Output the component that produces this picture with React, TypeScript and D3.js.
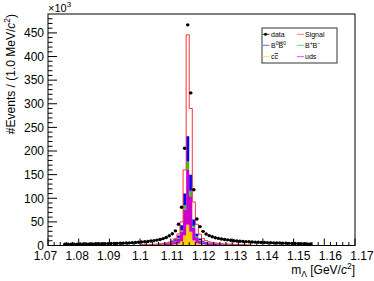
import React from "react";
import * as d3 from "d3";

// ---------- data (values in units of 10^3 events) ----------
const binWidth = 0.001; // GeV
const xDomain: [number, number] = [1.07, 1.17];
const yDomain: [number, number] = [0, 490];

// data: first bin lower edge 1.075
const dataStart = 1.075;
const dataValues = [
  2.6, 2.7, 2.8, 2.9, 3.0, 3.1, 3.2, 3.3, 3.4, 3.5,
  3.6, 3.7, 3.8, 3.9, 4.0, 4.2, 4.4, 4.6, 4.8, 5.0,
  5.3, 5.6, 6.0, 6.4, 6.8, 7.3, 7.9, 8.6, 9.4, 10.3,
  11.4, 12.8, 14.6, 17.0, 20.5, 25, 31, 45, 81, 206,
  467, 323, 118, 56, 40, 30, 24.5, 21, 18.5, 16.5,
  15, 13.8, 12.8, 12, 11.1, 10.2, 9.6, 9.1, 8.6, 8.2,
  7.8, 7.4, 7.1, 6.8, 6.5, 6.2, 6.0, 5.8, 5.6, 5.4,
  5.2, 5.0, 4.8, 4.6, 4.4, 4.2, 4.0, 3.8, 3.6, 3.4,
  3.2,
];

// MC components: first bin lower edge 1.100
const mcStart = 1.1;
const ccbar = [
  0.3, 0.3, 0.4, 0.4, 0.5, 0.6, 0.7, 0.8, 1.0, 1.3, 1.8, 2.6, 4.2, 8.5, 21, 44, 29, 10.5,
  5, 3, 2, 1.5, 1.2, 1.0, 0.9, 0.75, 0.65, 0.55, 0.5, 0.45, 0.4, 0.35, 0.3, 0.28, 0.25, 0.22,
];
const uds = [
  0.7, 0.8, 0.9, 1.0, 1.2, 1.4, 1.7, 2.1, 2.6, 3.3, 4.5, 6.5, 10.5, 21, 55, 116, 75, 27,
  12.5, 7.5, 5, 3.8, 3.0, 2.5, 2.1, 1.8, 1.6, 1.4, 1.25, 1.1, 1.0, 0.9, 0.8, 0.7, 0.65, 0.6,
];
const bpbm = [
  0.1, 0.1, 0.1, 0.2, 0.2, 0.2, 0.3, 0.3, 0.4, 0.5, 0.7, 1.0, 1.7, 3.5, 9, 18, 12, 4.5,
  2, 1.2, 0.8, 0.6, 0.5, 0.4, 0.35, 0.3, 0.25, 0.22, 0.2, 0.18, 0.16, 0.14, 0.12, 0.11, 0.1, 0.1,
];
const b0b0 = [
  0.3, 0.3, 0.4, 0.4, 0.5, 0.6, 0.7, 0.9, 1.1, 1.4, 2.0, 2.9, 4.6, 10, 25, 53, 34, 13,
  5.5, 3.3, 2.2, 1.6, 1.3, 1.1, 0.9, 0.8, 0.7, 0.6, 0.55, 0.5, 0.45, 0.4, 0.35, 0.3, 0.28, 0.25,
];
const signal = [
  0.1, 0.1, 0.1, 0.2, 0.2, 0.2, 0.3, 0.3, 0.4, 0.6, 0.9, 1.5, 3.5, 7, 50, 215, 140, 37,
  20, 9, 5, 3, 2, 1.5, 1.2, 1.0, 0.8, 0.7, 0.6, 0.5, 0.45, 0.4, 0.35, 0.3, 0.28, 0.25,
];

const xTicks = [1.07, 1.08, 1.09, 1.1, 1.11, 1.12, 1.13, 1.14, 1.15, 1.16, 1.17];
const xTickLabels = ["1.07", "1.08", "1.09", "1.1", "1.11", "1.12", "1.13", "1.14", "1.15", "1.16", "1.17"];
const yTicks = [0, 50, 100, 150, 200, 250, 300, 350, 400, 450];

const stackKeys = ["ccbar", "uds", "bpbm", "b0b0", "signal"];
const stackColors: Record<string, string> = {
  ccbar: "#ffcc00",
  uds: "#cc00cc",
  bpbm: "#22cc22",
  b0b0: "#0000ff",
};

// ---------- layout ----------
const W = 374;
const H = 281;
const L = 48, R = 355, T = 14, B = 245.5;
const FONT = "'Liberation Sans', Arial, Helvetica, sans-serif";

export default function App() {
  const x = d3.scaleLinear().domain(xDomain).range([L, R]);
  const y = d3.scaleLinear().domain(yDomain).range([B, T]);
  // tick labels in the reference are spread slightly wider than the ticks
  const xLab = d3.scaleLinear().domain(xDomain).range([45.5, 362]);

  const rows = ccbar.map((_, i) => ({
    lo: mcStart + i * binWidth,
    ccbar: ccbar[i],
    uds: uds[i],
    bpbm: bpbm[i],
    b0b0: b0b0[i],
    signal: signal[i],
  }));
  const stacked = d3.stack<any>().keys(stackKeys)(rows);

  const area = d3
    .area<[number, number, number]>()
    .x((d) => x(d[0]))
    .y0((d) => y(d[1]))
    .y1((d) => y(d[2]))
    .curve(d3.curveStepAfter);

  const layerPath = (layer: any) => {
    const pts: [number, number, number][] = layer.map((s: any, i: number) => [rows[i].lo, s[0], s[1]]);
    const last = layer[layer.length - 1];
    pts.push([rows[rows.length - 1].lo + binWidth, last[0], last[1]]);
    return area(pts) || "";
  };

  // total outline (red)
  const top = stacked[stacked.length - 1];
  const outlinePts: [number, number][] = [[xDomain[0], 0]];
  top.forEach((s: any, i: number) => outlinePts.push([rows[i].lo, s[1]]));
  outlinePts.push([rows[rows.length - 1].lo + binWidth, 0]);
  outlinePts.push([xDomain[1], 0]);
  const line = d3
    .line<[number, number]>()
    .x((d) => x(d[0]))
    .y((d) => y(d[1]))
    .curve(d3.curveStepAfter);

  // minor ticks
  const xMinor: number[] = d3.range(0, 51).map((i) => xDomain[0] + i * 0.002);
  const yMinor: number[] = d3.range(0, 49).map((i) => i * 10);

  const legendRows = [{ y: 34.3 }, { y: 45.3 }, { y: 56.7 }];

  return (
    <svg
      width={W}
      height={H}
      viewBox={`0 0 ${W} ${H}`}
      style={{ position: "absolute", left: 0, top: 0, background: "#fff" }}
      fontFamily={FONT}
    >
      <rect x={0} y={0} width={W} height={H} fill="#fff" />

      {/* stacked filled histograms */}
      {stacked.slice(0, 4).map((layer: any) => (
        <path key={layer.key} d={layerPath(layer)} fill={stackColors[layer.key]} stroke="none" />
      ))}

      {/* total outline (signal on top) */}
      <path d={line(outlinePts) || ""} fill="none" stroke="#ff3333" strokeWidth={1} />

      {/* data points */}
      {dataValues.map((v, i) => {
        const lo = dataStart + i * binWidth;
        const cx = x(lo + binWidth / 2);
        const cy = y(v);
        return (
          <g key={i}>
            <line x1={x(lo)} x2={x(lo + binWidth)} y1={cy} y2={cy} stroke="#000" strokeWidth={1} />
            <circle cx={cx} cy={cy} r={1.7} fill="#000" />
          </g>
        );
      })}

      {/* frame */}
      <rect x={L} y={T} width={R - L} height={B - T} fill="none" stroke="#000" strokeWidth={1} />

      {/* y axis ticks */}
      {yMinor.map((v) => (
        <line key={"ym" + v} x1={L} x2={L + (v % 50 === 0 ? 9 : 4.5)} y1={y(v)} y2={y(v)} stroke="#000" strokeWidth={1} />
      ))}
      {yTicks.map((v) => (
        <text key={"yl" + v} x={L - 4} y={y(v) + 4.3} fontSize={12} textAnchor="end" fill="#000">
          {v}
        </text>
      ))}
      <text x={L} y={12} fontSize={11} fill="#000">
        ×10<tspan fontSize={8} dy={-5}>3</tspan>
      </text>

      {/* x axis ticks */}
      {xMinor.map((v, i) => (
        <line key={"xm" + i} x1={x(v)} x2={x(v)} y1={B} y2={B - (i % 5 === 0 ? 7 : 3.5)} stroke="#000" strokeWidth={1} />
      ))}
      {xTicks.map((v, i) => (
        <text key={"xl" + i} x={xLab(v)} y={259.5} fontSize={12} textAnchor="middle" fill="#000">
          {xTickLabels[i]}
        </text>
      ))}

      {/* axis titles */}
      <text x={R} y={274} fontSize={12} textAnchor="end" fill="#000">
        m<tspan fontSize={8.5} dy={3}>Λ</tspan>
        <tspan dy={-3}> [GeV/</tspan>
        <tspan fontStyle="italic">c</tspan>
        <tspan fontSize={8.5} dy={-5}>2</tspan>
        <tspan dy={5}>]</tspan>
      </text>
      <text transform={`translate(14.5,${T}) rotate(-90)`} fontSize={12} textAnchor="end" fill="#000">
        #Events / (1.0 MeV/<tspan fontStyle="italic">c</tspan>
        <tspan fontSize={8.5} dy={-5}>2</tspan>
        <tspan dy={5}>)</tspan>
      </text>

      {/* legend */}
      <rect x={262} y={28} width={75} height={35} fill="#fff" stroke="#333" strokeWidth={1} />
      <g fontSize={7} fill="#000">
        {/* row 1 */}
        <line x1={262.5} x2={269.5} y1={legendRows[0].y} y2={legendRows[0].y} stroke="#000" strokeWidth={0.8} />
        <circle cx={265.5} cy={legendRows[0].y} r={1.5} fill="#000" />
        <text x={271} y={legendRows[0].y + 2.5}>data</text>
        <line x1={297} x2={304} y1={legendRows[0].y} y2={legendRows[0].y} stroke="#ff8080" strokeWidth={1} />
        <text x={305} y={legendRows[0].y + 2.5}>Signal</text>
        {/* row 2 */}
        <line x1={262.5} x2={269.5} y1={legendRows[1].y} y2={legendRows[1].y} stroke="#6666ff" strokeWidth={1} />
        <text x={271} y={legendRows[1].y + 2.5}>
          B<tspan fontSize={5} dy={-2.5}>0</tspan>
          <tspan dy={2.5} textDecoration="overline">B</tspan>
          <tspan fontSize={5} dy={-2.5}>0</tspan>
        </text>
        <line x1={297} x2={304} y1={legendRows[1].y} y2={legendRows[1].y} stroke="#66dd66" strokeWidth={1} />
        <text x={305} y={legendRows[1].y + 2.5}>
          B<tspan fontSize={5} dy={-2.5}>+</tspan>
          <tspan dy={2.5}>B</tspan>
          <tspan fontSize={5} dy={-2.5}>−</tspan>
        </text>
        {/* row 3 */}
        <line x1={262.5} x2={269.5} y1={legendRows[2].y} y2={legendRows[2].y} stroke="#ffdd55" strokeWidth={1} />
        <text x={271} y={legendRows[2].y + 2.5}>
          c<tspan textDecoration="overline">c</tspan>
        </text>
        <line x1={297} x2={304} y1={legendRows[2].y} y2={legendRows[2].y} stroke="#dd55dd" strokeWidth={1} />
        <text x={305} y={legendRows[2].y + 2.5}>uds</text>
      </g>
    </svg>
  );
}
